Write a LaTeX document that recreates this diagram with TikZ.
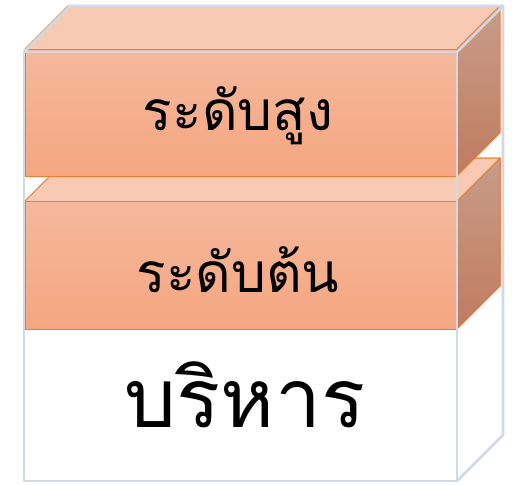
\documentclass[tikz,border=0pt]{standalone}
\usepackage{fontspec}
\newfontfamily\thaifont[Script=Thai]{Loma}
\definecolor{edgeor}{HTML}{ED7D31}
\definecolor{frontA}{HTML}{F5B89C}
\definecolor{frontB}{HTML}{F5A680}
\definecolor{topc}{HTML}{F8C9B3}
\definecolor{sideA}{HTML}{C89C88}
\definecolor{sideB}{HTML}{C07B60}
\definecolor{glass}{HTML}{D2D9E3}
\tikzset{
  frontface/.style={draw=edgeor, line width=1pt, top color=frontA, bottom color=frontB},
  topface/.style={draw=edgeor, line width=1pt, fill=topc, line join=round},
  sideface/.style={draw=edgeor, line width=1pt, top color=sideA, bottom color=sideB, line join=round},
  glassline/.style={draw=glass, line width=2.8pt, line join=round},
  label/.style={anchor=base, inner sep=0pt, font=\thaifont\fontsize{55}{60}\selectfont},
  biglabel/.style={anchor=base, inner sep=0pt, font=\thaifont\fontsize{82}{88}\selectfont}
}
\begin{document}
\begin{tikzpicture}[x=1pt,y=-1pt]
\useasboundingbox (0,0) rectangle (515,485);
% lower orange box
\fill[topface] (25,201) -- (68,158) -- (500,158) -- (457,201) -- cycle;
\fill[sideface] (457,201) -- (500,158) -- (500,286) -- (457,329) -- cycle;
\draw[sideface] (457,201) -- (500,158) -- (500,286) -- (457,329);
\draw[topface] (25,201) -- (68,158) -- (500,158) -- (457,201);
\shade[frontface] (25,201) rectangle (457,329);
% upper orange box
\fill[topface] (25,49) -- (68,6) -- (500,6) -- (457,49) -- cycle;
\draw[topface] (25,49) -- (68,6) -- (500,6) -- (457,49);
\shade[sideface] (457,49) -- (500,6) -- (500,133) -- (457,176) -- cycle;
\shade[frontface] (25,49) rectangle (457,176);
% glass box outline
\draw[glassline] (24,52) rectangle (457,481);
\draw[glassline] (24,52) -- (70,6) -- (503,6) -- (457,52);
\draw[glassline] (503,6) -- (503,435) -- (457,481);
% labels
\node[label] (top) at (238,130) {ระดับสูง};
\node[label] (mid) at (238,292) {ระดับต้น};
\node[biglabel] (bot) at (245,427) {บริหาร};
\end{tikzpicture}
\end{document}
